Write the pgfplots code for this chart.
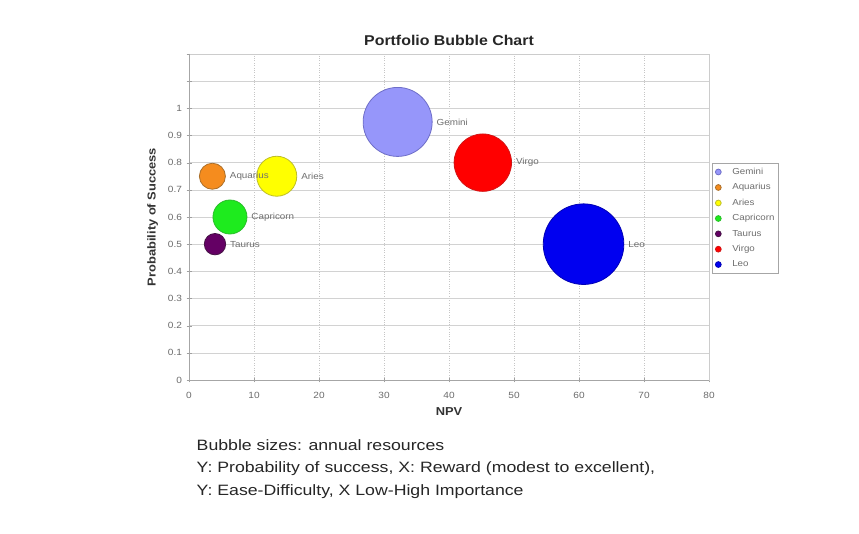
\documentclass[border=0pt]{standalone}
\usepackage{fontspec}
\setmainfont{Liberation Sans}
\newfontfamily\cf[FakeStretch=1.12]{Liberation Sans}
\newfontfamily\notefont[FakeStretch=1.18]{Liberation Sans}
\usepackage{pgfplots}
\pgfplotsset{compat=1.18}
\definecolor{gemini}{RGB}{150,150,250}
\definecolor{geminiE}{RGB}{110,110,200}
\definecolor{aquarius}{RGB}{245,140,30}
\definecolor{aquariusE}{RGB}{170,110,40}
\definecolor{aries}{RGB}{255,255,0}
\definecolor{ariesE}{RGB}{190,190,40}
\definecolor{capricorn}{RGB}{30,235,30}
\definecolor{capricornE}{RGB}{40,190,40}
\definecolor{taurus}{RGB}{100,0,100}
\definecolor{taurusE}{RGB}{70,20,70}
\definecolor{virgo}{RGB}{255,0,0}
\definecolor{virgoE}{RGB}{210,20,20}
\definecolor{leo}{RGB}{0,0,240}
\definecolor{leoE}{RGB}{0,0,180}
\definecolor{lbl}{RGB}{110,110,110}
\pgfplotsset{
  bub/.style n args={3}{only marks, mark=*, mark size=#1pt,
    mark options={fill=#2, draw=#3, line width=0.8pt}},
  lab/.style n args={2}{forget plot, only marks, mark=none,
    nodes near coords={#2},
    nodes near coords style={font=\cf\fontsize{8.8}{10}\selectfont, text=lbl, xshift=#1pt+1pt}},
}
\begin{document}
\begin{tikzpicture}[x=1pt,y=1pt]
\useasboundingbox (0,0) rectangle (859,533);
\fill[white] (0,0) rectangle (859,533);
\begin{axis}[
  at={(189pt,153pt)}, anchor=south west,
  scale only axis, width=520pt, height=326pt,
  xmin=0, xmax=80, ymin=0, ymax=1.2,
  xtick={0,10,20,30,40,50,60,70,80},
  ytick={0,0.1,0.2,0.3,0.4,0.5,0.6,0.7,0.8,0.9,1,1.1,1.2},
  yticklabels={0,0.1,0.2,0.3,0.4,0.5,0.6,0.7,0.8,0.9,1,,},
  xticklabels={0,10,20,30,40,50,60,70,80},
  xmajorgrids, ymajorgrids,
  x grid style={gray!45, dotted},
  y grid style={gray!35},
  axis line style={gray!40},
  tick style={gray!75},
  tick pos=left,
  tick align=center,
  major tick length=5pt,
  ticklabel style={font=\cf\fontsize{9}{10}\selectfont, text=gray!85!black},
  xticklabel style={yshift=-6pt},
  yticklabel style={xshift=-1pt},
  title={\bfseries Portfolio Bubble Chart},
  title style={font=\cf\fontsize{14.2}{16}\selectfont, text=black!85,
    at={(axis description cs:0.5,1.008)}, anchor=base},
  xlabel={\bfseries NPV},
  ylabel={\bfseries Probability of Success},
  xlabel style={font=\cf\fontsize{11.5}{13}\selectfont, text=black!80,
    at={(axis description cs:0.5,-0.098)}, anchor=center},
  ylabel style={font=\cf\fontsize{11.5}{13}\selectfont, text=black!80,
    at={(axis description cs:-0.070,0.5)}, anchor=center},
  clip=false,
  legend style={at={(1.006,0.666)}, anchor=north west,
    font=\cf\fontsize{8.7}{10}\selectfont, draw=gray!70, text=lbl,
    row sep=3.7pt, inner xsep=2pt, inner ysep=3pt},
  legend cell align=left,
  legend image code/.code={\path[draw=none, fill=none] (0pt,0pt) -- (16pt,0pt);
    \draw[#1, mark size=2.9pt] plot coordinates {(4pt,0pt)};},
  nodes near coords align={horizontal},
]
\addplot[bub={34.5}{gemini}{geminiE}] coordinates {(32.1,0.95)};
\addlegendentry{Gemini}
\addplot[bub={13}{aquarius}{aquariusE}] coordinates {(3.6,0.75)};
\addlegendentry{Aquarius}
\addplot[bub={20}{aries}{ariesE}] coordinates {(13.5,0.75)};
\addlegendentry{Aries}
\addplot[bub={17}{capricorn}{capricornE}] coordinates {(6.3,0.6)};
\addlegendentry{Capricorn}
\addplot[bub={10.7}{taurus}{taurusE}] coordinates {(4.0,0.5)};
\addlegendentry{Taurus}
\addplot[bub={28.7}{virgo}{virgoE}] coordinates {(45.2,0.80)};
\addlegendentry{Virgo}
\addplot[bub={40.3}{leo}{leoE}] coordinates {(60.7,0.5)};
\addlegendentry{Leo}
% bubble labels, drawn after all bubbles so they sit on top
\addplot[lab={34.5}{Gemini}] coordinates {(32.1,0.95)};
\addplot[lab={13}{Aquarius}] coordinates {(3.6,0.75)};
\addplot[lab={20}{Aries}] coordinates {(13.5,0.75)};
\addplot[lab={17}{Capricorn}] coordinates {(6.3,0.6)};
\addplot[lab={10.7}{Taurus}] coordinates {(4.0,0.5)};
\addplot[lab={28.7}{Virgo}] coordinates {(45.2,0.80)};
\addplot[lab={40.3}{Leo}] coordinates {(60.7,0.5)};
\draw[gray!70] (rel axis cs:0,1) -- (rel axis cs:0,0) -- (rel axis cs:1,0);
\end{axis}
\node[anchor=base west, font=\notefont\fontsize{15}{18}\selectfont, text=black!85, inner sep=0pt] at (196.5,83) {Bubble sizes: annual resources};
\node[anchor=base west, font=\notefont\fontsize{15}{18}\selectfont, text=black!85, inner sep=0pt] at (196.5,60.5) {Y: Probability of success, X: Reward (modest to excellent),};
\node[anchor=base west, font=\notefont\fontsize{15}{18}\selectfont, text=black!85, inner sep=0pt] at (196.5,38) {Y: Ease-Difficulty, X Low-High Importance};
\end{tikzpicture}
\end{document}
